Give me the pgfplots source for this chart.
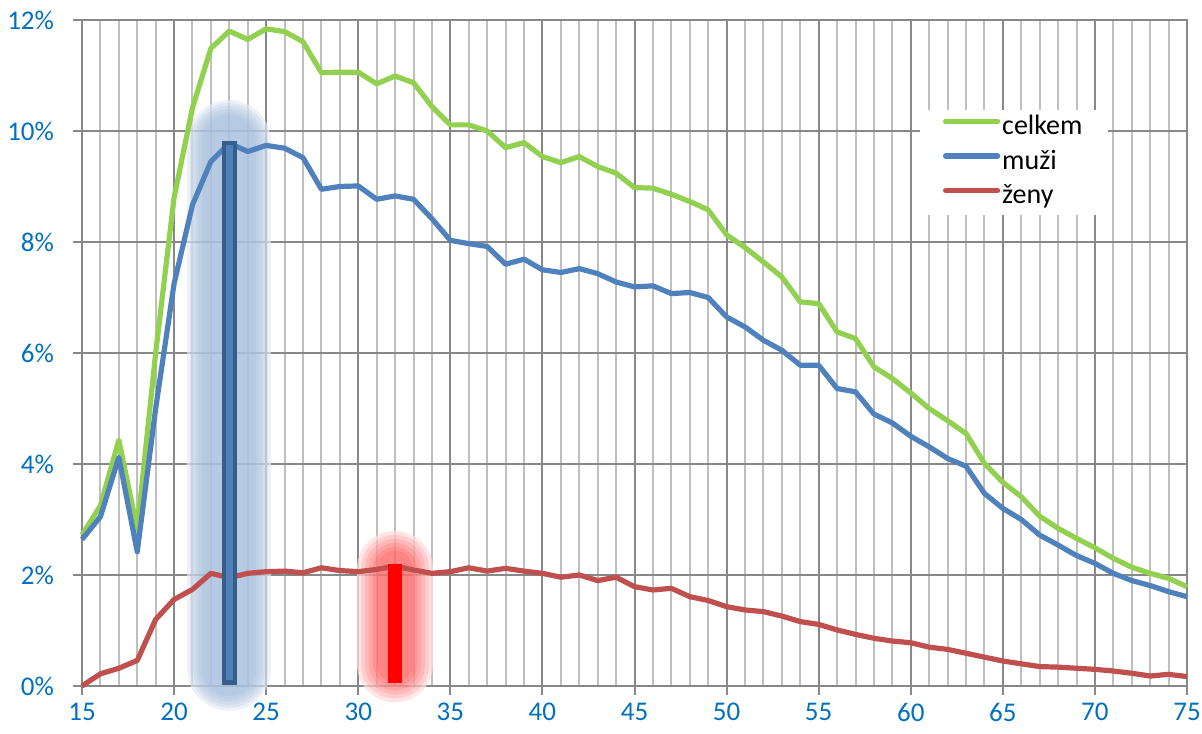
\documentclass[border=0pt]{standalone}
\usepackage{fontspec}
\setmainfont{Carlito}
\usepackage{pgfplots}
\usepackage{pgfplotstable}
\pgfplotsset{compat=1.18}
\definecolor{cgreen}{HTML}{92D050}
\definecolor{cblue}{HTML}{4F81BD}
\definecolor{cred}{HTML}{C0504D}
\definecolor{ctick}{HTML}{0070C0}
\definecolor{gmaj}{HTML}{888888}
\definecolor{gmin}{HTML}{BFBFBF}
\definecolor{bardark}{HTML}{385D8A}
\definecolor{glowblue}{HTML}{95B3D7}
\definecolor{glowred}{HTML}{FF0000}
\pgfplotstableread{
age celkem muzi zeny
15 2.72 2.64 0.00
16 3.25 3.05 0.22
17 4.43 4.12 0.32
18 2.82 2.42 0.46
19 6.00 5.00 1.20
20 8.80 7.25 1.56
21 10.42 8.67 1.74
22 11.49 9.45 2.03
23 11.80 9.78 1.95
24 11.65 9.63 2.03
25 11.84 9.74 2.06
26 11.79 9.69 2.07
27 11.61 9.52 2.04
28 11.05 8.95 2.13
29 11.06 9.00 2.08
30 11.06 9.01 2.06
31 10.85 8.77 2.10
32 10.99 8.83 2.16
33 10.87 8.77 2.09
34 10.44 8.42 2.03
35 10.11 8.03 2.06
36 10.11 7.97 2.13
37 10.00 7.92 2.07
38 9.70 7.60 2.12
39 9.79 7.69 2.07
40 9.54 7.50 2.03
41 9.43 7.45 1.96
42 9.54 7.52 2.00
43 9.36 7.43 1.90
44 9.24 7.28 1.96
45 8.98 7.19 1.79
46 8.97 7.21 1.73
47 8.86 7.07 1.76
48 8.73 7.09 1.61
49 8.58 7.00 1.54
50 8.13 6.65 1.43
51 7.90 6.47 1.37
52 7.64 6.23 1.34
53 7.37 6.05 1.26
54 6.92 5.78 1.16
55 6.89 5.78 1.11
56 6.38 5.36 1.01
57 6.26 5.30 0.93
58 5.75 4.90 0.86
59 5.54 4.74 0.81
60 5.28 4.50 0.78
61 5.00 4.31 0.70
62 4.78 4.10 0.66
63 4.55 3.96 0.59
64 4.01 3.47 0.52
65 3.67 3.20 0.45
66 3.41 3.00 0.40
67 3.06 2.72 0.35
68 2.84 2.54 0.34
69 2.66 2.35 0.32
70 2.49 2.21 0.30
71 2.30 2.03 0.27
72 2.14 1.90 0.23
73 2.03 1.81 0.18
74 1.94 1.70 0.21
75 1.79 1.61 0.17
}\data
\begin{document}
\begin{tikzpicture}
\path[use as bounding box] (-41pt,-23.5pt) rectangle (560pt,343pt);
\begin{axis}[
  scale only axis, width=552.5pt, height=333pt,
  xmin=15, xmax=75, ymin=0, ymax=12,
  xtick={15,20,...,75}, minor x tick num=4,
  ytick={0,2,...,12},
  grid=both,
  major grid style={gmaj, line width=1pt},
  minor grid style={gmin, line width=1pt},
  axis line style={gmaj, line width=1pt},
  tick style={gmaj, line width=1pt},
  major tick length=4.5pt, minor tick length=0pt,
  tick align=outside, xtick pos=bottom, ytick pos=left,
  tick label style={text=ctick},
  xticklabel={\fontsize{13.5}{16}\selectfont\pgfmathprintnumber{\tick}},
  yticklabel={\fontsize{13.5}{16}\selectfont\pgfmathprintnumber{\tick}\%},
  xticklabel style={yshift=-3pt, inner ysep=1pt},
  yticklabel style={xshift=-6pt},
  /pgf/number format/assume math mode=true,
  clip=false,
  legend style={at={(0.758,0.865)}, anchor=north west, draw=none, fill=white,
    inner xsep=11.5pt, inner ysep=1.2pt, row sep=2.05pt,
    font=\fontsize{14}{16}\selectfont,
    nodes={inner sep=1pt, text height=10pt, text depth=3.2pt}},
  legend cell align=left,
  legend image code/.code={\draw[#1, line cap=round] (0pt,3.2pt) -- (26pt,3.2pt);},
]
% glow (blue)
\addplot[forget plot, white, opacity=0.6, line width=42pt, line cap=round] coordinates {(23,0.31) (23,9.8)};
\addplot[forget plot, glowblue, opacity=0.17, line width=42pt, line cap=round] coordinates {(23,0.31) (23,9.8)};
\addplot[forget plot, glowblue, opacity=0.17, line width=39pt, line cap=round] coordinates {(23,0.31) (23,9.8)};
\addplot[forget plot, glowblue, opacity=0.17, line width=36pt, line cap=round] coordinates {(23,0.31) (23,9.8)};
\addplot[forget plot, glowblue, opacity=0.17, line width=33pt, line cap=round] coordinates {(23,0.31) (23,9.8)};
\addplot[forget plot, glowblue, opacity=0.17, line width=30pt, line cap=round] coordinates {(23,0.31) (23,9.8)};
\addplot[forget plot, glowblue, opacity=0.17, line width=27pt, line cap=round] coordinates {(23,0.31) (23,9.8)};
% glow (red)
\addplot[forget plot, white, opacity=0.7, line width=38pt, line cap=round] coordinates {(32,0.39) (32,2.11)};
\addplot[forget plot, glowred, opacity=0.1, line width=38pt, line cap=round] coordinates {(32,0.39) (32,2.11)};
\addplot[forget plot, glowred, opacity=0.1, line width=34pt, line cap=round] coordinates {(32,0.39) (32,2.11)};
\addplot[forget plot, glowred, opacity=0.1, line width=30pt, line cap=round] coordinates {(32,0.39) (32,2.11)};
\addplot[forget plot, glowred, opacity=0.1, line width=26pt, line cap=round] coordinates {(32,0.39) (32,2.11)};
\addplot[forget plot, glowred, opacity=0.1, line width=22pt, line cap=round] coordinates {(32,0.39) (32,2.11)};
\addplot[forget plot, glowred, opacity=0.1, line width=18pt, line cap=round] coordinates {(32,0.39) (32,2.11)};
% series
\addplot[cgreen, line width=2.6pt, line join=round] table[x=age, y=celkem] {\data};
\addlegendentry{celkem}
\addplot[cblue, line width=2.6pt, line join=round] table[x=age, y=muzi] {\data};
\addlegendentry{muži}
\addplot[cred, line width=2.6pt, line join=round] table[x=age, y=zeny] {\data};
\addlegendentry{ženy}
% highlight bars
\addplot[forget plot, bardark, line width=7.5pt] coordinates {(23,0.02) (23,9.82)};
\addplot[forget plot, cblue, line width=3.5pt] coordinates {(23,0.1) (23,9.74)};
\addplot[forget plot, red, line width=7pt] coordinates {(32,0.05) (32,2.2)};
\end{axis}
\end{tikzpicture}
\end{document}
